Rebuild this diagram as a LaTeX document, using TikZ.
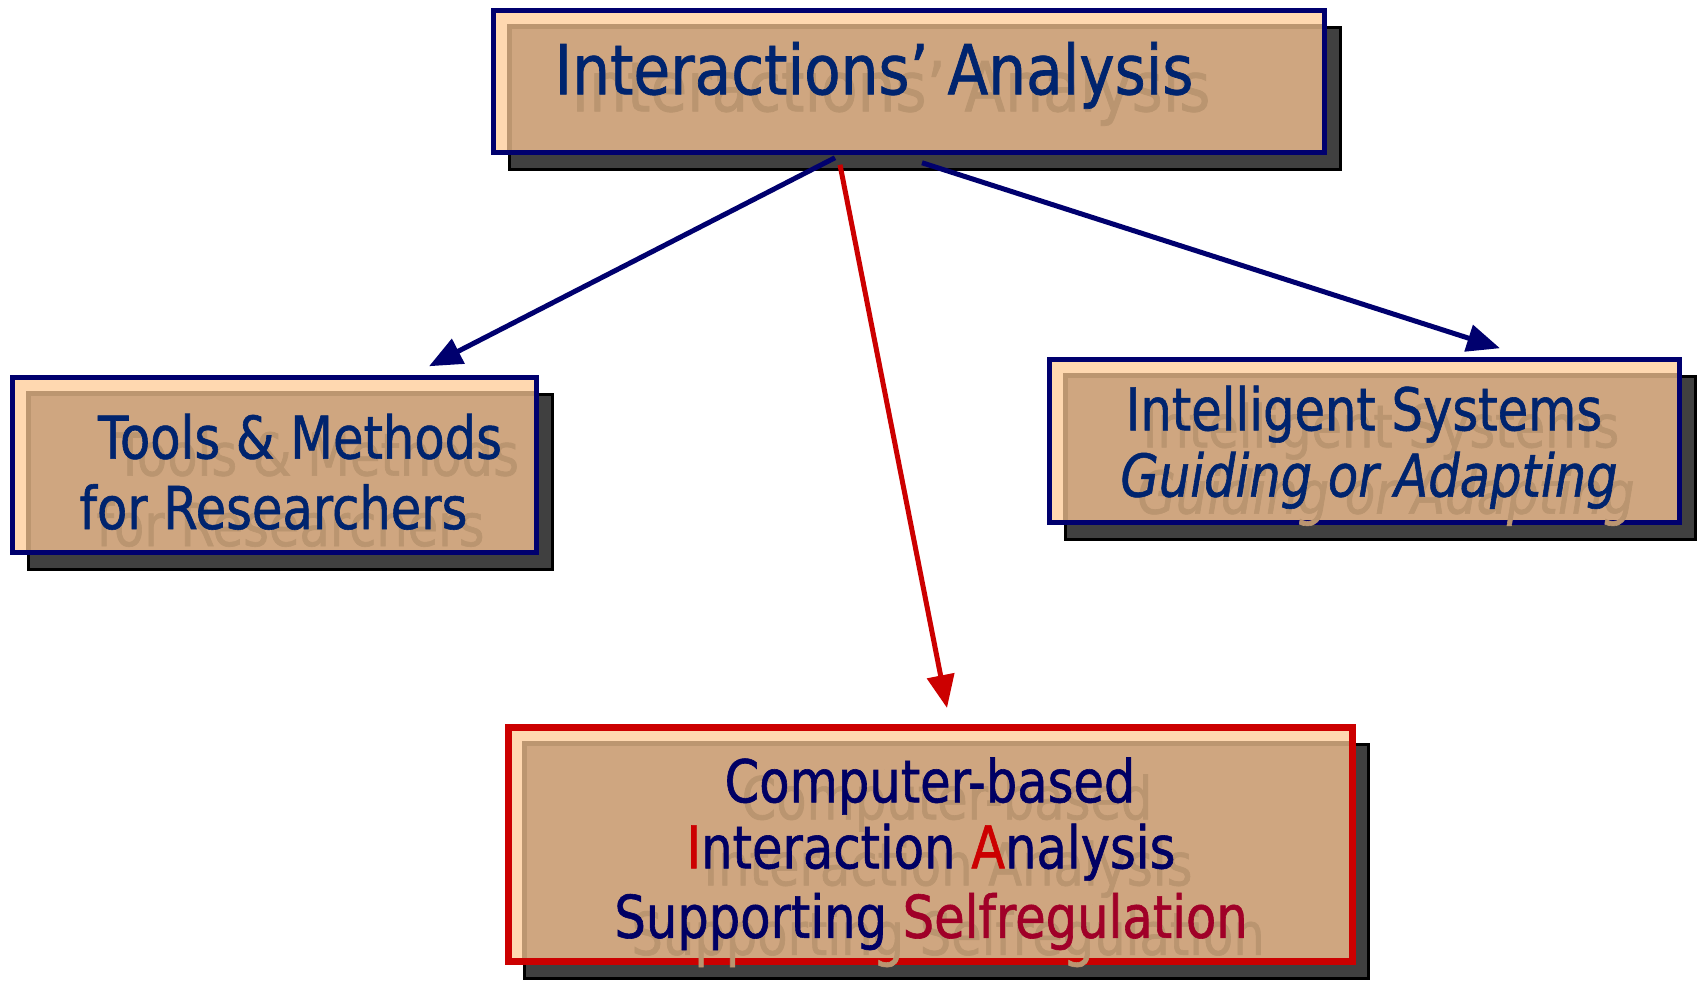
\documentclass[tikz,border=0pt]{standalone}
\usepackage{fontspec}
\setmainfont{DejaVu Sans}[FakeStretch=0.84, FakeBold=1]
\newfontfamily\headfont{DejaVu Sans}[FakeStretch=0.865, FakeBold=1]
\usetikzlibrary{arrows.meta,calc}

\definecolor{navyline}{RGB}{0,0,110}
\definecolor{textblue}{RGB}{0,36,110}
\definecolor{textnavy}{RGB}{0,0,100}
\definecolor{accentred}{RGB}{204,0,0}
\definecolor{deepred}{RGB}{160,0,40}
\definecolor{peach}{RGB}{255,216,176}
\definecolor{tanfill}{RGB}{207,166,128}
\definecolor{tanedge}{RGB}{188,150,112}
\definecolor{ghosttan}{RGB}{186,149,112}
\definecolor{shadowgray}{RGB}{64,64,64}

\pgfdeclarelayer{shadowlayer}
\pgfdeclarelayer{arrowlayer}
\pgfsetlayers{shadowlayer,arrowlayer,main}

\tikzset{
  every node/.style={inner sep=0pt, outer sep=0pt},
  shadowbox/.style={fill=shadowgray, draw=black, line width=3pt},
  navyframe/.style={draw=navyline, line width=5pt},
  redframe/.style={draw=accentred, line width=7pt},
  bigfont/.style={font=\headfont\fontsize{69pt}{80pt}\selectfont},
  midfont/.style={font=\fontsize{59pt}{70pt}\selectfont},
  ghost/.style={text=ghosttan, anchor=base},
  cardtext/.style={text=textblue, anchor=base},
  cardtextnavy/.style={text=textnavy, anchor=base},
  bluelink/.style={draw=navyline, line width=5pt, -{Triangle[length=33pt,width=27pt]}},
  redlink/.style={draw=accentred, line width=5pt, -{Triangle[length=33pt,width=27pt]}},
}

% card: name, centre x, centre y, width, height, frame style
\newcommand\card[6]{%
  \node[minimum width=#4pt, minimum height=#5pt, fill=peach] (#1) at (#2,#3) {};
  \fill[tanfill] ($(#1.north west)+(13,13)$) rectangle (#1.south east);
  \draw[tanedge, line width=5pt] ($(#1.south west)+(15.5,0)$) |- ($(#1.north east)+(0,15.5)$);
  \draw[#6] (#1.north west) rectangle (#1.south east);
  \begin{pgfonlayer}{shadowlayer}
    \draw[shadowbox] ($(#1.north west)+(16,17)$) rectangle ($(#1.south east)+(16,17)$);
  \end{pgfonlayer}
}

\begin{document}
\begin{tikzpicture}[x=1pt, y=-1pt]
\begin{pgfonlayer}{shadowlayer}
  \fill[white] (0,0) rectangle (1700,980);
\end{pgfonlayer}
\useasboundingbox (0,0) rectangle (1700,980);

% cards
\card{top}{909}{81.5}{831}{142}{navyframe}
\card{left}{274.5}{465}{524}{175}{navyframe}
\card{right}{1364.5}{441}{630}{163}{navyframe}
\card{bottom}{930.5}{844.5}{844}{234}{redframe}

% connectors
\begin{pgfonlayer}{arrowlayer}
  \draw[bluelink] ($(top.south)+(-74,5.25)$) -- ($(left.north)+(154.5,-11.25)$);
  \draw[bluelink] ($(top.south)+(13,10.25)$) -- ($(right.north)+(135.5,-11.25)$);
  \draw[redlink] ($(top.south)+(-69,12.25)$) -- ($(bottom.north)+(16.5,-19.5)$);
\end{pgfonlayer}

% top card text
\node[ghost, bigfont] (topg) at (891,111.3) {Interactions’ Analysis};
\node[cardtext, bigfont] (topt) at (874,94.3) {Interactions’ Analysis};

% left card text
\node[ghost, midfont] (leftg1) at (317,475.6) {Tools \& Methods};
\node[ghost, midfont] (leftg2) at (290.5,546) {for Researchers};
\node[cardtext, midfont] (leftt1) at (300,458.6) {Tools \& Methods};
\node[cardtext, midfont] (leftt2) at (273.5,529) {for Researchers};

% right card text
\node[ghost, midfont] (rightg1) at (1381,447.4) {Intelligent Systems};
\node[ghost, midfont] (rightg2) at (1386,513.6) {\itshape Guiding or Adapting};
\node[cardtext, midfont] (rightt1) at (1364,430.4) {Intelligent Systems};
\node[cardtext, midfont] (rightt2) at (1369,496.6) {\itshape Guiding or Adapting};

% bottom card text
\node[ghost, midfont] (botg1) at (947,819.3) {Computer-based};
\node[ghost, midfont] (botg2) at (948,885.4) {Interaction Analysis};
\node[ghost, midfont] (botg3) at (948,954.8) {Supporting Selfregulation};
\node[cardtextnavy, midfont] (bott1) at (930,802.3) {Computer-based};
\node[cardtextnavy, midfont] (bott2) at (931,868.4) {\textcolor{accentred}{I}nteraction \textcolor{accentred}{A}nalysis};
\node[cardtextnavy, midfont] (bott3) at (931,937.8) {Supporting \textcolor{deepred}{Selfregulation}};
\end{tikzpicture}
\end{document}
